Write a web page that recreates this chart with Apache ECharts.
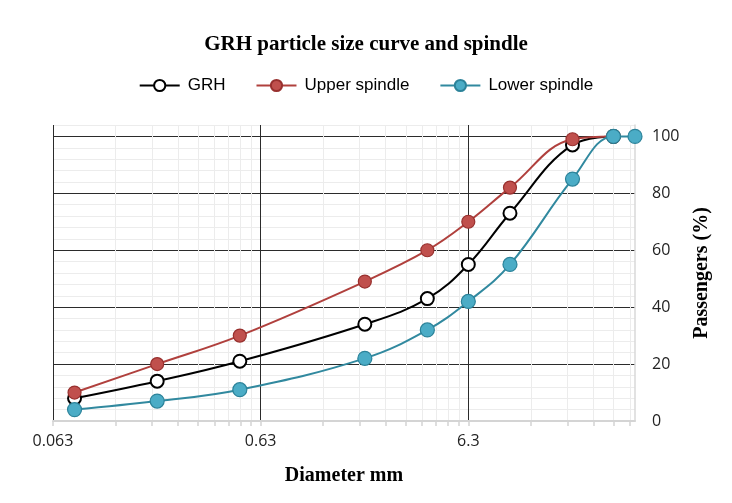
<!DOCTYPE html>
<html><head><meta charset="utf-8">
<script src="https://cdn.jsdelivr.net/npm/echarts@6/dist/echarts.min.js"></script>
<style>html,body{margin:0;padding:0;background:#fff}#c{width:732px;height:503px}</style>
</head><body><div id="c"></div>
<script>
// ---- data ----
const diameters = [0.08, 0.2, 0.5, 2, 4, 6.3, 10, 20, 31.5, 40];
const grh   = [8, 14, 21, 34, 43, 55, 73, 97, 100, null];
const upper = [10, 20, 30, 49, 60, 70, 82, 99, 100, null];
const lower = [4, 7, 11, 22, 32, 42, 55, 85, 100, 100];
const xTickLabels = ['0.063', '0.63', '6.3'];
const yTickLabels = [0, 20, 40, 60, 80, 100];
const xMin = 0.063, xMax = 40, yMax = 104;

// ---- build options ----
function pts(arr) {
  return diameters.map((d, i) => [d, arr[i]]).filter(p => p[1] != null);
}
// log grid: major at each decade label, minor at 2..9 times it
const xGridVals = [], xGridColors = [];
xTickLabels.forEach(s => {
  const base = parseFloat(s);
  for (let k = 1; k <= 9; k++) {
    const v = +(base * k).toPrecision(6);
    if (v <= xMax) { xGridVals.push(v); xGridColors.push(k === 1 ? '#2b2b2b' : '#ececec'); }
  }
});
const yColors = [];
for (let v = 0; v <= yMax; v += 4) {
  yColors.push(v === 0 ? '#d4d4d4' : (v % 20 === 0 ? '#2b2b2b' : '#ececec'));
}

const chart = echarts.init(document.getElementById('c'));
const serif = "'Liberation Serif', 'Times New Roman', serif";
const sans = "'Open Sans', 'Noto Sans', sans-serif";
chart.setOption({
  animation: false,
  backgroundColor: '#fff',
  title: {
    text: 'GRH particle size curve and spindle',
    left: 'center', top: 29,
    textStyle: { fontFamily: serif, fontWeight: 'bold', fontSize: 21, color: '#000' }
  },
  legend: {
    top: 72, left: 'center',
    itemWidth: 40, itemHeight: 14, itemGap: 30,
    textStyle: { fontFamily: "'Liberation Sans', Arial, sans-serif", fontSize: 17, color: '#000', padding: [0, 0, 0, 3] },
    data: ['GRH', 'Upper spindle', 'Lower spindle']
  },
  grid: { left: 53, right: 97, top: 125, bottom: 82, containLabel: false },
  xAxis: {
    type: 'log', logBase: 10, min: xMin, max: xMax,
    name: 'Diameter mm', nameLocation: 'middle', nameGap: 45,
    nameTextStyle: { fontFamily: serif, fontWeight: 'bold', fontSize: 20, color: '#000' },
    axisLine: { show: true, lineStyle: { color: '#d4d4d4', width: 2 } },
    axisTick: { show: true, length: 5, lineStyle: { color: '#d4d4d4', width: 1.5 }, customValues: xGridVals },
    axisLabel: {
      customValues: xTickLabels.map(parseFloat),
      formatter: v => String(+(+v).toPrecision(2)),
      fontFamily: sans, fontSize: 16, color: '#222', margin: 12
    },
    splitLine: { show: true, lineStyle: { color: xGridColors, width: 1 } },
    minorTick: { show: false }, minorSplitLine: { show: false }
  },
  yAxis: {
    type: 'value', position: 'right', min: 0, max: yMax, interval: 4,
    name: 'Passengers (%)', nameLocation: 'middle', nameGap: 57, nameRotate: 90,
    nameTextStyle: { fontFamily: serif, fontWeight: 'bold', fontSize: 20, color: '#000' },
    axisLine: { show: true, lineStyle: { color: '#d9d9d9', width: 1.5 } },
    axisTick: { show: false },
    axisLabel: {
      formatter: v => (yTickLabels.indexOf(v) >= 0 ? String(v) : ''),
      fontFamily: sans, fontSize: 16, color: '#222', margin: 17
    },
    splitLine: { show: true, lineStyle: { color: yColors, width: 1 } }
  },
  series: [
    {
      name: 'GRH', type: 'line', data: pts(grh), smooth: 0.4, z: 2,
      symbol: 'circle', symbolSize: 13,
      lineStyle: { color: '#000', width: 2 },
      itemStyle: { color: '#fff', borderColor: '#000', borderWidth: 2 }
    },
    {
      name: 'Upper spindle', type: 'line', data: pts(upper), smooth: 0.4, z: 3,
      symbol: 'circle', symbolSize: 13,
      lineStyle: { color: '#b0403d', width: 2 },
      itemStyle: { color: '#c0504d', borderColor: '#98302e', borderWidth: 1.2 }
    },
    {
      name: 'Lower spindle', type: 'line', data: pts(lower), smooth: 0.4, z: 4, zlevel: 1,
      symbol: 'circle', symbolSize: 14,
      lineStyle: { color: '#31899f', width: 2 },
      itemStyle: { color: '#4bacc6', borderColor: '#2c839a', borderWidth: 1.2 }
    }
  ]
});
</script></body></html>
